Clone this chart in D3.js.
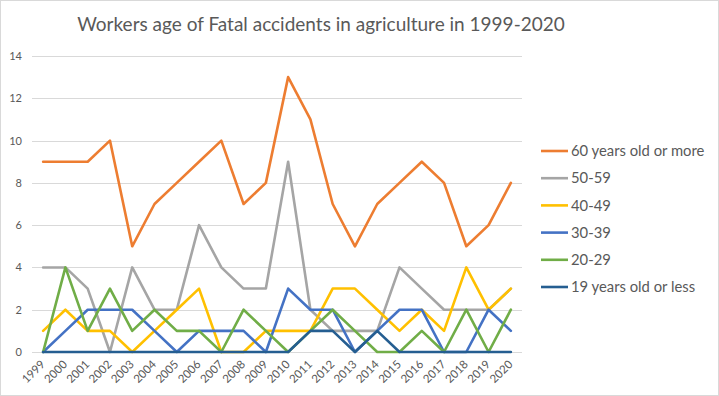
<!DOCTYPE html>
<html lang="en">
<head>
<meta charset="UTF-8">
<title>Workers age of Fatal accidents in agriculture in 1999-2020</title>
<style>
    body { margin: 0; padding: 0; background: #fff; }
    svg { display: block; font-family: 'Lato', 'Open Sans', sans-serif; }
</style>
</head>
<body>
<svg id="chart" width="719" height="396"></svg>
<script src="https://d3js.org/d3.v7.min.js"></script>
<script>
    // data
    const years = ["1999","2000","2001","2002","2003","2004","2005","2006","2007","2008","2009",
                   "2010","2011","2012","2013","2014","2015","2016","2017","2018","2019","2020"];
    const age60plus = [9, 9, 9, 10, 5, 7, 8, 9, 10, 7, 8, 13, 11, 7, 5, 7, 8, 9, 8, 5, 6, 8];
    const age50to59 = [4, 4, 3, 0, 4, 2, 2, 6, 4, 3, 3, 9, 2, 1, 1, 1, 4, 3, 2, 2, 2, 3];
    const age40to49 = [1, 2, 1, 1, 0, 1, 2, 3, 0, 0, 1, 1, 1, 3, 3, 2, 1, 2, 1, 4, 2, 3];
    const age30to39 = [0, 1, 2, 2, 2, 1, 0, 1, 1, 1, 0, 3, 2, 2, 0, 1, 2, 2, 0, 0, 2, 1];
    const age20to29 = [0, 4, 1, 3, 1, 2, 1, 1, 0, 2, 1, 0, 1, 2, 1, 0, 0, 1, 0, 2, 0, 2];
    const age19less = [0, 0, 0, 0, 0, 0, 0, 0, 0, 0, 0, 0, 1, 1, 0, 1, 0, 0, 0, 0, 0, 0];
    const yTicks = [0, 2, 4, 6, 8, 10, 12, 14];

    const series = [
        { name: "60 years old or more", values: age60plus, color: "#ED7D31" },
        { name: "50-59", values: age50to59, color: "#A5A5A5" },
        { name: "40-49", values: age40to49, color: "#FFC000" },
        { name: "30-39", values: age30to39, color: "#4472C4" },
        { name: "20-29", values: age20to29, color: "#70AD47" },
        { name: "19 years old or less", values: age19less, color: "#255E91" }
    ];

    const svg = d3.select("#chart");
    const textColor = "#595959";

    // outer chart border
    svg.append("rect")
        .attr("x", 0.5).attr("y", 0.5)
        .attr("width", 718).attr("height", 395)
        .attr("fill", "#fff")
        .attr("stroke", "#d9d9d9");

    const x = d3.scalePoint().domain(years).range([32, 522]).padding(0.5);
    const y = d3.scaleLinear().domain([0, 14]).range([352, 56]);

    // gridlines
    svg.append("g")
        .selectAll("line")
        .data(yTicks)
        .join("line")
        .attr("x1", 32).attr("x2", 522)
        .attr("y1", d => Math.round(y(d)) + 0.5)
        .attr("y2", d => Math.round(y(d)) + 0.5)
        .attr("stroke", "#d9d9d9")
        .attr("stroke-width", 1);

    // y axis labels
    const yAxis = svg.append("g")
        .attr("transform", "translate(22,0)")
        .call(d3.axisLeft(y).tickValues(yTicks).tickSize(0).tickPadding(0));
    yAxis.select(".domain").remove();
    yAxis.selectAll("text")
        .attr("fill", textColor)
        .attr("font-size", 11)
        .attr("font-family", "'Lato', 'Open Sans', sans-serif");

    // x axis labels, rotated
    const xAxis = svg.append("g")
        .attr("transform", "translate(0,352)")
        .call(d3.axisBottom(x).tickSize(0).tickPadding(0));
    xAxis.select(".domain").remove();
    xAxis.selectAll("text")
        .attr("fill", textColor)
        .attr("font-size", 11.5)
        .attr("font-family", "'Lato', 'Open Sans', sans-serif")
        .attr("text-anchor", "end")
        .attr("dy", null)
        .attr("y", null)
        .attr("transform", "translate(2,13) rotate(-45)");

    // lines
    const line = d3.line()
        .x((d, i) => x(years[i]))
        .y(d => y(d));

    svg.append("g")
        .selectAll("path")
        .data(series)
        .join("path")
        .attr("d", d => line(d.values))
        .attr("fill", "none")
        .attr("stroke", d => d.color)
        .attr("stroke-width", 2.6)
        .attr("stroke-linejoin", "round")
        .attr("stroke-linecap", "round");

    // title
    svg.append("text")
        .attr("x", 321)
        .attr("y", 31)
        .attr("text-anchor", "middle")
        .attr("fill", textColor)
        .attr("font-size", 19)
        .text("Workers age of Fatal accidents in agriculture in 1999-2020");

    // legend
    const legend = svg.append("g")
        .selectAll("g")
        .data(series)
        .join("g")
        .attr("transform", (d, i) => `translate(541,${151 + i * 27.2})`);

    legend.append("line")
        .attr("x1", 0).attr("x2", 27)
        .attr("stroke", d => d.color)
        .attr("stroke-width", 2.6);

    legend.append("text")
        .attr("x", 30)
        .attr("dy", "0.35em")
        .attr("fill", textColor)
        .attr("font-size", 14.8)
        .text(d => d.name);
</script>
</body>
</html>
